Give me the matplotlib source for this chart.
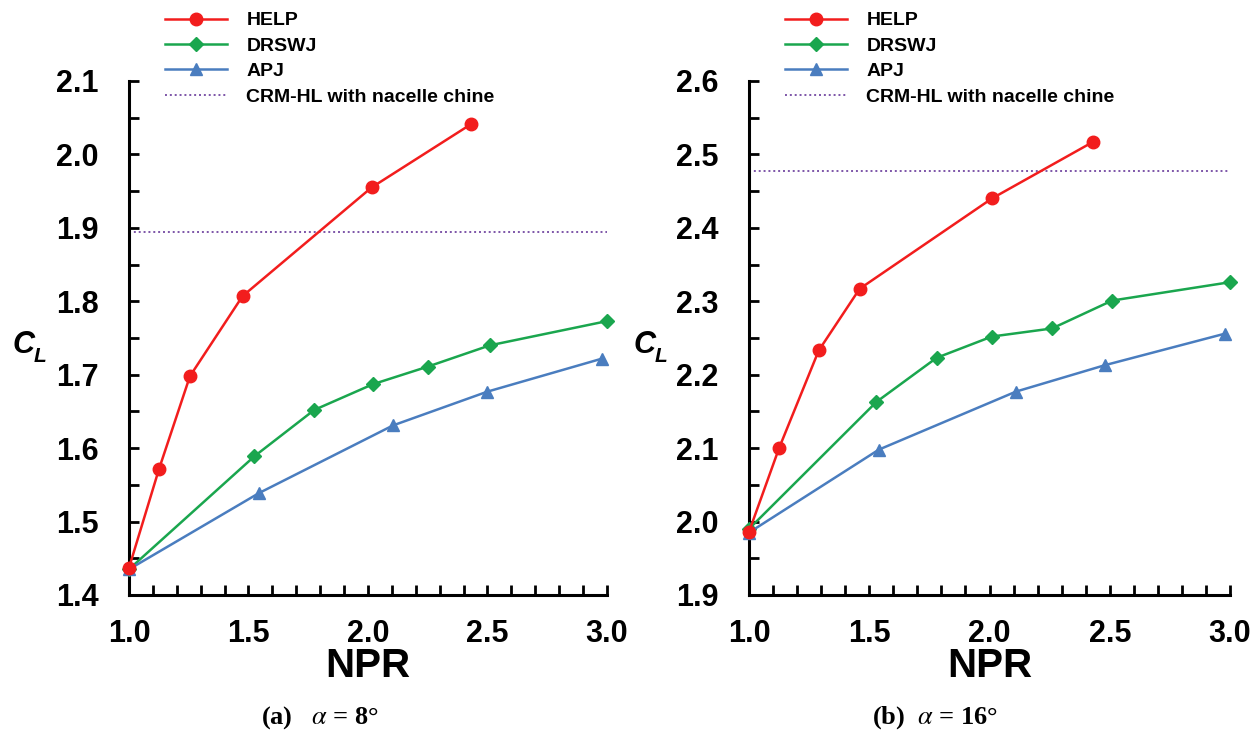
import matplotlib
matplotlib.use('Agg')
import matplotlib.pyplot as plt
from matplotlib.ticker import MultipleLocator, FormatStrFormatter

plt.rcParams['font.family'] = ['Liberation Sans', 'DejaVu Sans']
plt.rcParams['mathtext.fontset'] = 'stix'

# (a) alpha = 8 deg
help_x_a = [1.0, 1.125, 1.255, 1.475, 2.015, 2.43]
help_y_a = [1.437, 1.571, 1.698, 1.807, 1.955, 2.041]
drswj_x_a = [1.0, 1.525, 1.775, 2.02, 2.25, 2.51, 3.0]
drswj_y_a = [1.435, 1.589, 1.652, 1.687, 1.711, 1.740, 1.773]
apj_x_a = [1.0, 1.545, 2.105, 2.5, 2.98]
apj_y_a = [1.435, 1.539, 1.631, 1.677, 1.722]
crm_a = 1.895

# (b) alpha = 16 deg
help_x_b = [1.0, 1.125, 1.29, 1.46, 2.01, 2.43]
help_y_b = [1.986, 2.100, 2.233, 2.317, 2.440, 2.517]
drswj_x_b = [1.0, 1.53, 1.78, 2.01, 2.26, 2.51, 3.0]
drswj_y_b = [1.99, 2.163, 2.223, 2.252, 2.263, 2.301, 2.326]
apj_x_b = [1.0, 1.54, 2.11, 2.48, 2.98]
apj_y_b = [1.985, 2.098, 2.177, 2.213, 2.256]
crm_b = 2.478

red = '#f21d1d'
green = '#1aa64e'
blue = '#4a7dbf'
purple = '#7d55a8'

W, H = 1260, 736
fig = plt.figure(figsize=(12.6, 7.36), dpi=100)

def px_axes(x0, x1, ytop, ybot):
    return [x0 / W, 1 - ybot / H, (x1 - x0) / W, (ybot - ytop) / H]

ax1 = fig.add_axes(px_axes(129, 607, 81, 595))
ax2 = fig.add_axes(px_axes(749, 1230, 81, 595))

panels = [
    (ax1, help_x_a, help_y_a, drswj_x_a, drswj_y_a, apj_x_a, apj_y_a, crm_a, (1.4, 2.1)),
    (ax2, help_x_b, help_y_b, drswj_x_b, drswj_y_b, apj_x_b, apj_y_b, crm_b, (1.9, 2.6)),
]

for ax, hx, hy, dx, dy, ax_, ay, crm, ylim in panels:
    ax.plot(hx, hy, color=red, lw=1.8, marker='o', ms=9, label='HELP', clip_on=False, zorder=4)
    ax.plot(dx, dy, color=green, lw=1.8, marker='D', ms=7, label='DRSWJ', clip_on=False, zorder=3)
    ax.plot(ax_, ay, color=blue, lw=1.8, marker='^', ms=9, label='APJ', clip_on=False, zorder=3)
    ax.axhline(crm, color=purple, lw=1.4, ls=(0, (1, 1.5)), label='CRM-HL with nacelle chine')
    ax.set_xlim(1.0, 3.0)
    ax.set_ylim(*ylim)
    for s in ['top', 'right']:
        ax.spines[s].set_visible(False)
    for s in ['left', 'bottom']:
        ax.spines[s].set_linewidth(2.2)
    ax.xaxis.set_major_locator(MultipleLocator(0.5))
    ax.xaxis.set_minor_locator(MultipleLocator(0.1))
    ax.yaxis.set_major_locator(MultipleLocator(0.1))
    ax.yaxis.set_minor_locator(MultipleLocator(0.05))
    ax.xaxis.set_major_formatter(FormatStrFormatter('%.1f'))
    ax.yaxis.set_major_formatter(FormatStrFormatter('%.1f'))
    ax.tick_params(which='both', direction='in', length=7, width=2)
    ax.tick_params(axis='x', which='major', pad=17, labelsize=22)
    ax.tick_params(axis='y', which='major', pad=22, labelsize=22)
    for lab in ax.get_xticklabels() + ax.get_yticklabels():
        lab.set_fontweight('bold')
    leg = ax.legend(loc='upper left', frameon=False, handlelength=3.2, handletextpad=1.0,
                    labelspacing=0.4, borderaxespad=0,
                    prop={'weight': 'bold', 'size': 14},
                    bbox_to_anchor=(ax.get_position().x0 + 28 / W, 1 - 4 / H),
                    bbox_transform=fig.transFigure)

# axis titles
for xc in [(129 + 607) / 2, (749 + 1230) / 2]:
    fig.text(xc / W, 1 - 666 / H, 'NPR', ha='center', va='center',
             fontsize=29, fontweight='bold')
for xl in [24, 645]:
    fig.text(xl / W, 1 - 345 / H, 'C', ha='center', va='center',
             fontsize=22, fontweight='bold', fontstyle='italic')
    fig.text((xl + 16) / W, 1 - 356 / H, 'L', ha='center', va='center',
             fontsize=15, fontweight='bold', fontstyle='italic')

fig.text(320 / W, 1 - 718 / H, r'(a)   $\alpha$ = 8°', ha='center', va='center',
         fontsize=19, fontweight='bold', family=['Liberation Serif', 'DejaVu Serif'])
fig.text(935 / W, 1 - 718 / H, r'(b)  $\alpha$ = 16°', ha='center', va='center',
         fontsize=19, fontweight='bold', family=['Liberation Serif', 'DejaVu Serif'])

fig.savefig('out.png', dpi=100)
